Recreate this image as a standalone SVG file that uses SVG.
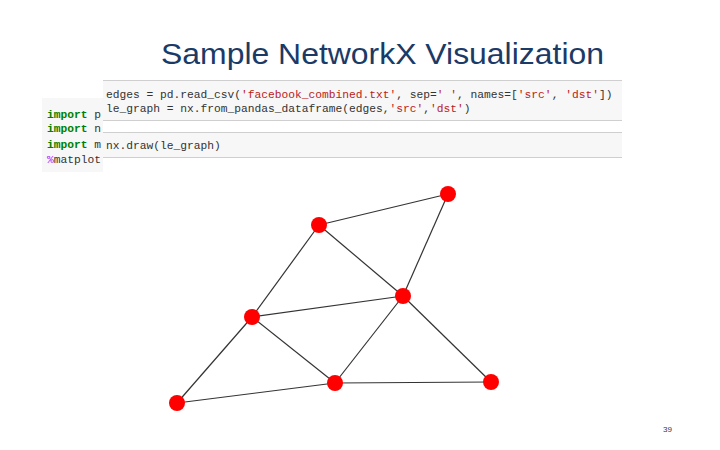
<svg xmlns="http://www.w3.org/2000/svg" width="720" height="450" viewBox="0 0 720 450">
<style>
.title{font-family:"Liberation Sans",Arial,sans-serif;font-size:29px;fill:#1b3a66}
.code{font-family:"Liberation Mono","DejaVu Sans Mono",monospace;font-size:11.25px;fill:#333}
.kw{fill:#008000;font-weight:bold}
.str{fill:#ba2121}
.mag{fill:#aa22ff}
.cell{fill:#f7f7f7}
.bord{stroke:#cfcfcf;stroke-width:1}
.edge{stroke:#333;stroke-width:1.2;fill:none}
.node{fill:#ff0000}
.pg{font-family:"Liberation Sans",Arial,sans-serif;font-size:8px;fill:#1f3a5e}
</style>
<rect width="720" height="450" fill="#fff"/>
<text class="title" x="161" y="64" textLength="443" lengthAdjust="spacingAndGlyphs">Sample NetworkX Visualization</text>
<g id="code-left">
<rect class="cell" x="42" y="98" width="61" height="74"/>
<text class="code" x="47" y="118"><tspan class="kw">import</tspan> p</text>
<text class="code" x="47" y="132"><tspan class="kw">import</tspan> n</text>
<text class="code" x="47" y="148"><tspan class="kw">import</tspan> m</text>
<text class="code" x="47" y="163"><tspan class="mag">%</tspan>matplot</text>
</g>
<g id="code-right">
<rect x="103" y="80" width="519" height="78" fill="#fff"/>
<rect class="cell" x="103" y="80" width="519" height="41"/>
<line class="bord" x1="103" y1="80.5" x2="622" y2="80.5"/>
<line class="bord" x1="103" y1="120.5" x2="622" y2="120.5"/>
<rect class="cell" x="103" y="132" width="519" height="26"/>
<line class="bord" x1="103" y1="132.5" x2="622" y2="132.5"/>
<line class="bord" x1="103" y1="157.5" x2="622" y2="157.5"/>
<text class="code" x="106" y="98" xml:space="preserve">edges = pd.read_csv(<tspan class="str">'facebook_combined.txt'</tspan>, sep=<tspan class="str">' '</tspan>, names=[<tspan class="str">'src'</tspan>, <tspan class="str">'dst'</tspan>])</text>
<text class="code" x="106" y="112" xml:space="preserve">le_graph = nx.from_pandas_dataframe(edges,<tspan class="str">'src'</tspan>,<tspan class="str">'dst'</tspan>)</text>
<text class="code" x="106" y="149">nx.draw(le_graph)</text>
</g>
<g id="connectors">
<line class="edge" x1="319" y1="225" x2="448" y2="194"/>
<line class="edge" x1="448" y1="194" x2="403" y2="296"/>
<line class="edge" x1="319" y1="225" x2="403" y2="296"/>
<line class="edge" x1="319" y1="225" x2="252" y2="317"/>
<line class="edge" x1="252" y1="317" x2="403" y2="296"/>
<line class="edge" x1="252" y1="317" x2="335" y2="383"/>
<line class="edge" x1="403" y1="296" x2="335" y2="383"/>
<line class="edge" x1="403" y1="296" x2="491" y2="382"/>
<line class="edge" x1="335" y1="383" x2="491" y2="382"/>
<line class="edge" x1="252" y1="317" x2="177" y2="403"/>
<line class="edge" x1="177" y1="403" x2="335" y2="383"/>
</g>
<g id="n1"><circle class="node" cx="448" cy="194" r="8"/></g>
<g id="n2"><circle class="node" cx="319" cy="225" r="8"/></g>
<g id="n3"><circle class="node" cx="403" cy="296" r="8"/></g>
<g id="n4"><circle class="node" cx="252" cy="317" r="8"/></g>
<g id="n5"><circle class="node" cx="335" cy="383" r="8"/></g>
<g id="n6"><circle class="node" cx="491" cy="382" r="8"/></g>
<g id="n7"><circle class="node" cx="177" cy="403" r="8"/></g>
<text class="pg" x="663" y="432">39</text>
</svg>
